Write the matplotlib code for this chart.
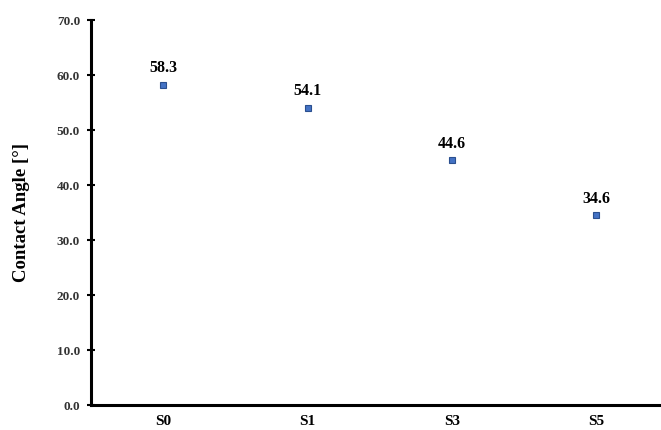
import matplotlib
matplotlib.use("Agg")
import matplotlib.pyplot as plt

categories = ["S0", "S1", "S3", "S5"]
contact_angle = [58.3, 54.1, 44.6, 34.6]
yticks = [0, 10, 20, 30, 40, 50, 60, 70]

plt.rcParams['font.family'] = ['Liberation Serif', 'DejaVu Serif']

fig = plt.figure(figsize=(6.61, 4.30), dpi=100)
ax = fig.add_axes([0.138, 0.058, 0.862, 0.895])

x = list(range(len(categories)))
ax.plot(x, contact_angle, linestyle='none', marker='s', markersize=5,
        markerfacecolor='#4472c4', markeredgecolor='#2a4f8f', markeredgewidth=0.8)
for xi, v in zip(x, contact_angle):
    ax.annotate(f"{v:.1f}", (xi, v), xytext=(0, 6), textcoords='offset points',
                ha='center', va='bottom', fontsize=11.5, fontweight='bold')

ax.set_xlim(-0.5, 3.45)
ax.set_ylim(0, 70)
ax.set_xticks(x)
ax.set_xticklabels(categories, fontsize=11, fontweight='bold')
ax.set_yticks(yticks)
ax.set_yticklabels([f"{t:.1f}" for t in yticks], fontsize=9.5, fontweight='bold', color='#333333')
ax.tick_params(axis='x', length=0, pad=7)
ax.tick_params(axis='y', direction='inout', length=6, width=1.5, pad=5)
for s in ['top', 'right']:
    ax.spines[s].set_visible(False)
for s in ['left', 'bottom']:
    ax.spines[s].set_linewidth(2.2)
ax.set_ylabel("Contact Angle [°]", fontsize=13.5, fontweight='bold')
ax.yaxis.set_label_coords(-0.107, 0.5)

fig.savefig("out.png", dpi=100)
